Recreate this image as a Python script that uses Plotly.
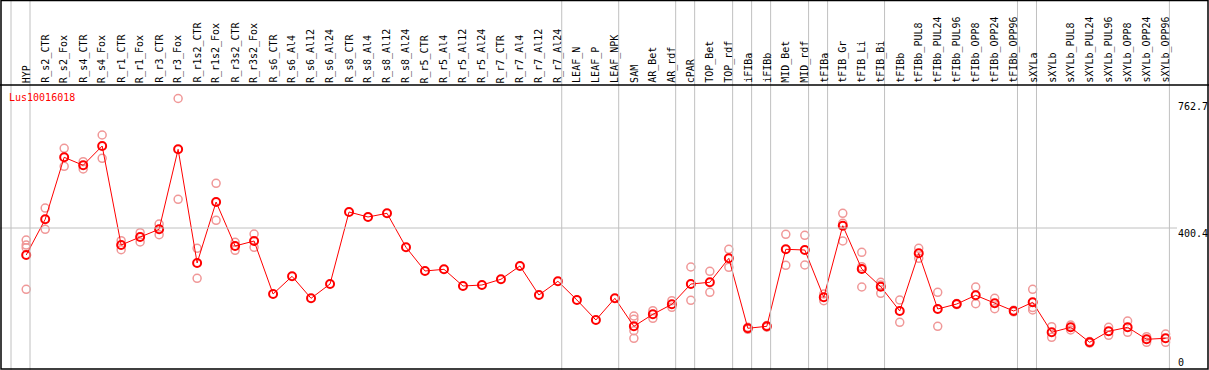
import plotly.graph_objects as go

categories = ["HYP", "R_s2_CTR", "R_s2_Fox", "R_s4_CTR", "R_s4_Fox", "R_r1_CTR", "R_r1_Fox",
              "R_r3_CTR", "R_r3_Fox", "R_r1s2_CTR", "R_r1s2_Fox", "R_r3s2_CTR", "R_r3s2_Fox",
              "R_s6_CTR", "R_s6_Al4", "R_s6_Al12", "R_s6_Al24", "R_s8_CTR", "R_s8_Al4",
              "R_s8_Al12", "R_s8_Al24", "R_r5_CTR", "R_r5_Al4", "R_r5_Al12", "R_r5_Al24",
              "R_r7_CTR", "R_r7_Al4", "R_r7_Al12", "R_r7_Al24", "LEAF_N", "LEAF_P", "LEAF_NPK",
              "SAM", "AR_Bet", "AR_rdf", "cPAR", "TOP_Bet", "TOP_rdf", "iFIBa", "iFIBb",
              "MID_Bet", "MID_rdf", "tFIBa", "tFIB_Gr", "tFIB_Li", "tFIB_Bi", "tFIBb",
              "tFIBb_PUL8", "tFIBb_PUL24", "tFIBb_PUL96", "tFIBb_OPP8", "tFIBb_OPP24",
              "tFIBb_OPP96", "sXYLa", "sXYLb", "sXYLb_PUL8", "sXYLb_PUL24", "sXYLb_PUL96",
              "sXYLb_OPP8", "sXYLb_OPP24", "sXYLb_OPP96"]

means = [324.8, 424.7, 598.2, 575.8, 629.8, 352.8, 375.2, 396.7, 620.6, 302.5,
         473.1, 350.0, 364.0, 215.7, 265.2, 203.7, 243.7, 445.2, 431.2, 441.5,
         346.4, 280.1, 284.8, 238.1, 240.9, 256.9, 294.1, 212.9, 251.3, 198.9,
         143.0, 203.7, 125.3, 158.9, 186.9, 243.7, 248.5, 315.6, 119.8, 125.3,
         340.8, 338.8, 206.5, 406.8, 285.7, 236.2, 168.2, 329.6, 173.8, 187.7,
         212.1, 189.7, 168.2, 192.5, 108.6, 122.5, 80.6, 111.4, 122.5, 89.0,
         91.8]

replicates = [
    [366.6, 352.6, 345.3, 228.9], [456.3, 396.7], [623.4, 573.0], [585.9, 565.5],
    [660.6, 595.4], [364.9, 339.7], [387.2, 361.2], [411.6, 381.6], [762.7, 480.7],
    [343.6, 259.7], [525.5, 421.9], [360.4, 338.0], [383.6, 346.4],
    [], [], [], [], [], [], [], [], [], [], [], [], [], [], [], [], [], [], [],
    [154.2, 145.0, 113.0, 91.8], [169.0, 147.7], [197.0, 178.5], [291.3, 198.1],
    [279.2, 220.5], [340.8, 290.4], [117.0, 122.5], [123.0, 127.5], [382.8, 296.0],
    [380.0, 296.9], [215.7, 197.0], [441.5, 413.5, 364.0], [332.4, 292.1, 235.3],
    [248.5, 241.0, 217.7], [198.9, 136.5], [343.6, 315.6], [220.5, 125.3],
    [189.0, 186.0], [235.3, 188.6], [203.7, 174.6], [170.0, 166.0],
    [228.9, 177.7, 171.0], [124.3, 94.6], [129.0, 115.0], [82.5, 78.5],
    [122.5, 100.2], [140.2, 108.6], [96.3, 80.6], [103.8, 80.6],
]

# separators drawn after these categories (None = before first)
separators_after = [None, "HYP", "R_r7_Al24", "LEAF_NPK", "AR_rdf", "cPAR", "TOP_rdf",
                    "iFIBa", "iFIBb", "MID_rdf", "tFIBa", "tFIB_Bi", "tFIBb_OPP96",
                    "sXYLa", "sXYLb_OPP96"]

gene = "Lus10016018"
y_max_label = "762.7"
y_mid_label = "400.4"
y_mid_value = 400.4
y_min_label = "0"

W, H = 1209, 370
FONT = "DejaVu Sans Mono"

def px(xp):
    return xp / W

def py(yp):
    return 1 - yp / H

idx = list(range(len(categories)))
rx, ry = [], []
for i, reps in enumerate(replicates):
    for v in reps:
        rx.append(i)
        ry.append(v)

fig = go.Figure()
fig.add_trace(go.Scatter(
    x=rx, y=ry, mode="markers",
    marker=dict(symbol="circle-open", size=8, color="#f09898", line=dict(width=1.5, color="#f09898")),
    hoverinfo="skip", showlegend=False))
fig.add_trace(go.Scatter(
    x=idx, y=means, mode="lines+markers",
    line=dict(color="#ff0000", width=1),
    marker=dict(symbol="circle-open", size=8, color="#ff0000", line=dict(width=2, color="#ff0000")),
    showlegend=False))

shapes = []
for s in separators_after:
    i = -1 if s is None else categories.index(s)
    shapes.append(dict(type="line", xref="x", yref="paper", x0=i + 0.2, x1=i + 0.2,
                       y0=0, y1=1, line=dict(color="#c0c0c0", width=1)))
shapes.append(dict(type="line", xref="paper", yref="y", x0=0, x1=px(1177),
                   y0=y_mid_value, y1=y_mid_value, line=dict(color="#c0c0c0", width=1)))
shapes.append(dict(type="rect", xref="paper", yref="paper", x0=px(1), x1=px(1208),
                   y0=py(369), y1=py(0.5), line=dict(color="black", width=1.5)))
shapes.append(dict(type="line", xref="paper", yref="paper", x0=0, x1=1,
                   y0=py(85), y1=py(85), line=dict(color="black", width=1.5)))

annotations = []
for i, c in enumerate(categories):
    annotations.append(dict(x=i, y=py(84), xref="x", yref="paper", text=c, showarrow=False,
                            textangle=-90, xanchor="center", yanchor="bottom",
                            font=dict(family=FONT, size=10, color="black"), borderpad=0))
annotations.append(dict(x=px(8), y=py(97), xref="paper", yref="paper", text=gene,
                        showarrow=False, xanchor="left", yanchor="middle",
                        font=dict(family=FONT, size=10, color="#ff0000"), borderpad=0))
for lab, yy in [(y_max_label, 107), (y_mid_label, 233), (y_min_label, 362)]:
    annotations.append(dict(x=px(1177), y=py(yy), xref="paper", yref="paper", text=lab,
                            showarrow=False, xanchor="left", yanchor="middle",
                            font=dict(family=FONT, size=10, color="black"), borderpad=0))

x0_px, step = 26.2, 18.99
k, y0_px = 0.3574, 371.1
fig.update_layout(
    width=W, height=H, margin=dict(l=0, r=0, t=0, b=0),
    paper_bgcolor="white", plot_bgcolor="white",
    xaxis=dict(range=[-x0_px / step, (W - x0_px) / step], visible=False, fixedrange=True),
    yaxis=dict(range=[(y0_px - H) / k, y0_px / k], visible=False, fixedrange=True),
    shapes=shapes, annotations=annotations,
)
fig.write_html("out.html", config={"displayModeBar": False},
               post_script="document.body.style.margin='0';document.body.style.overflow='hidden';")
